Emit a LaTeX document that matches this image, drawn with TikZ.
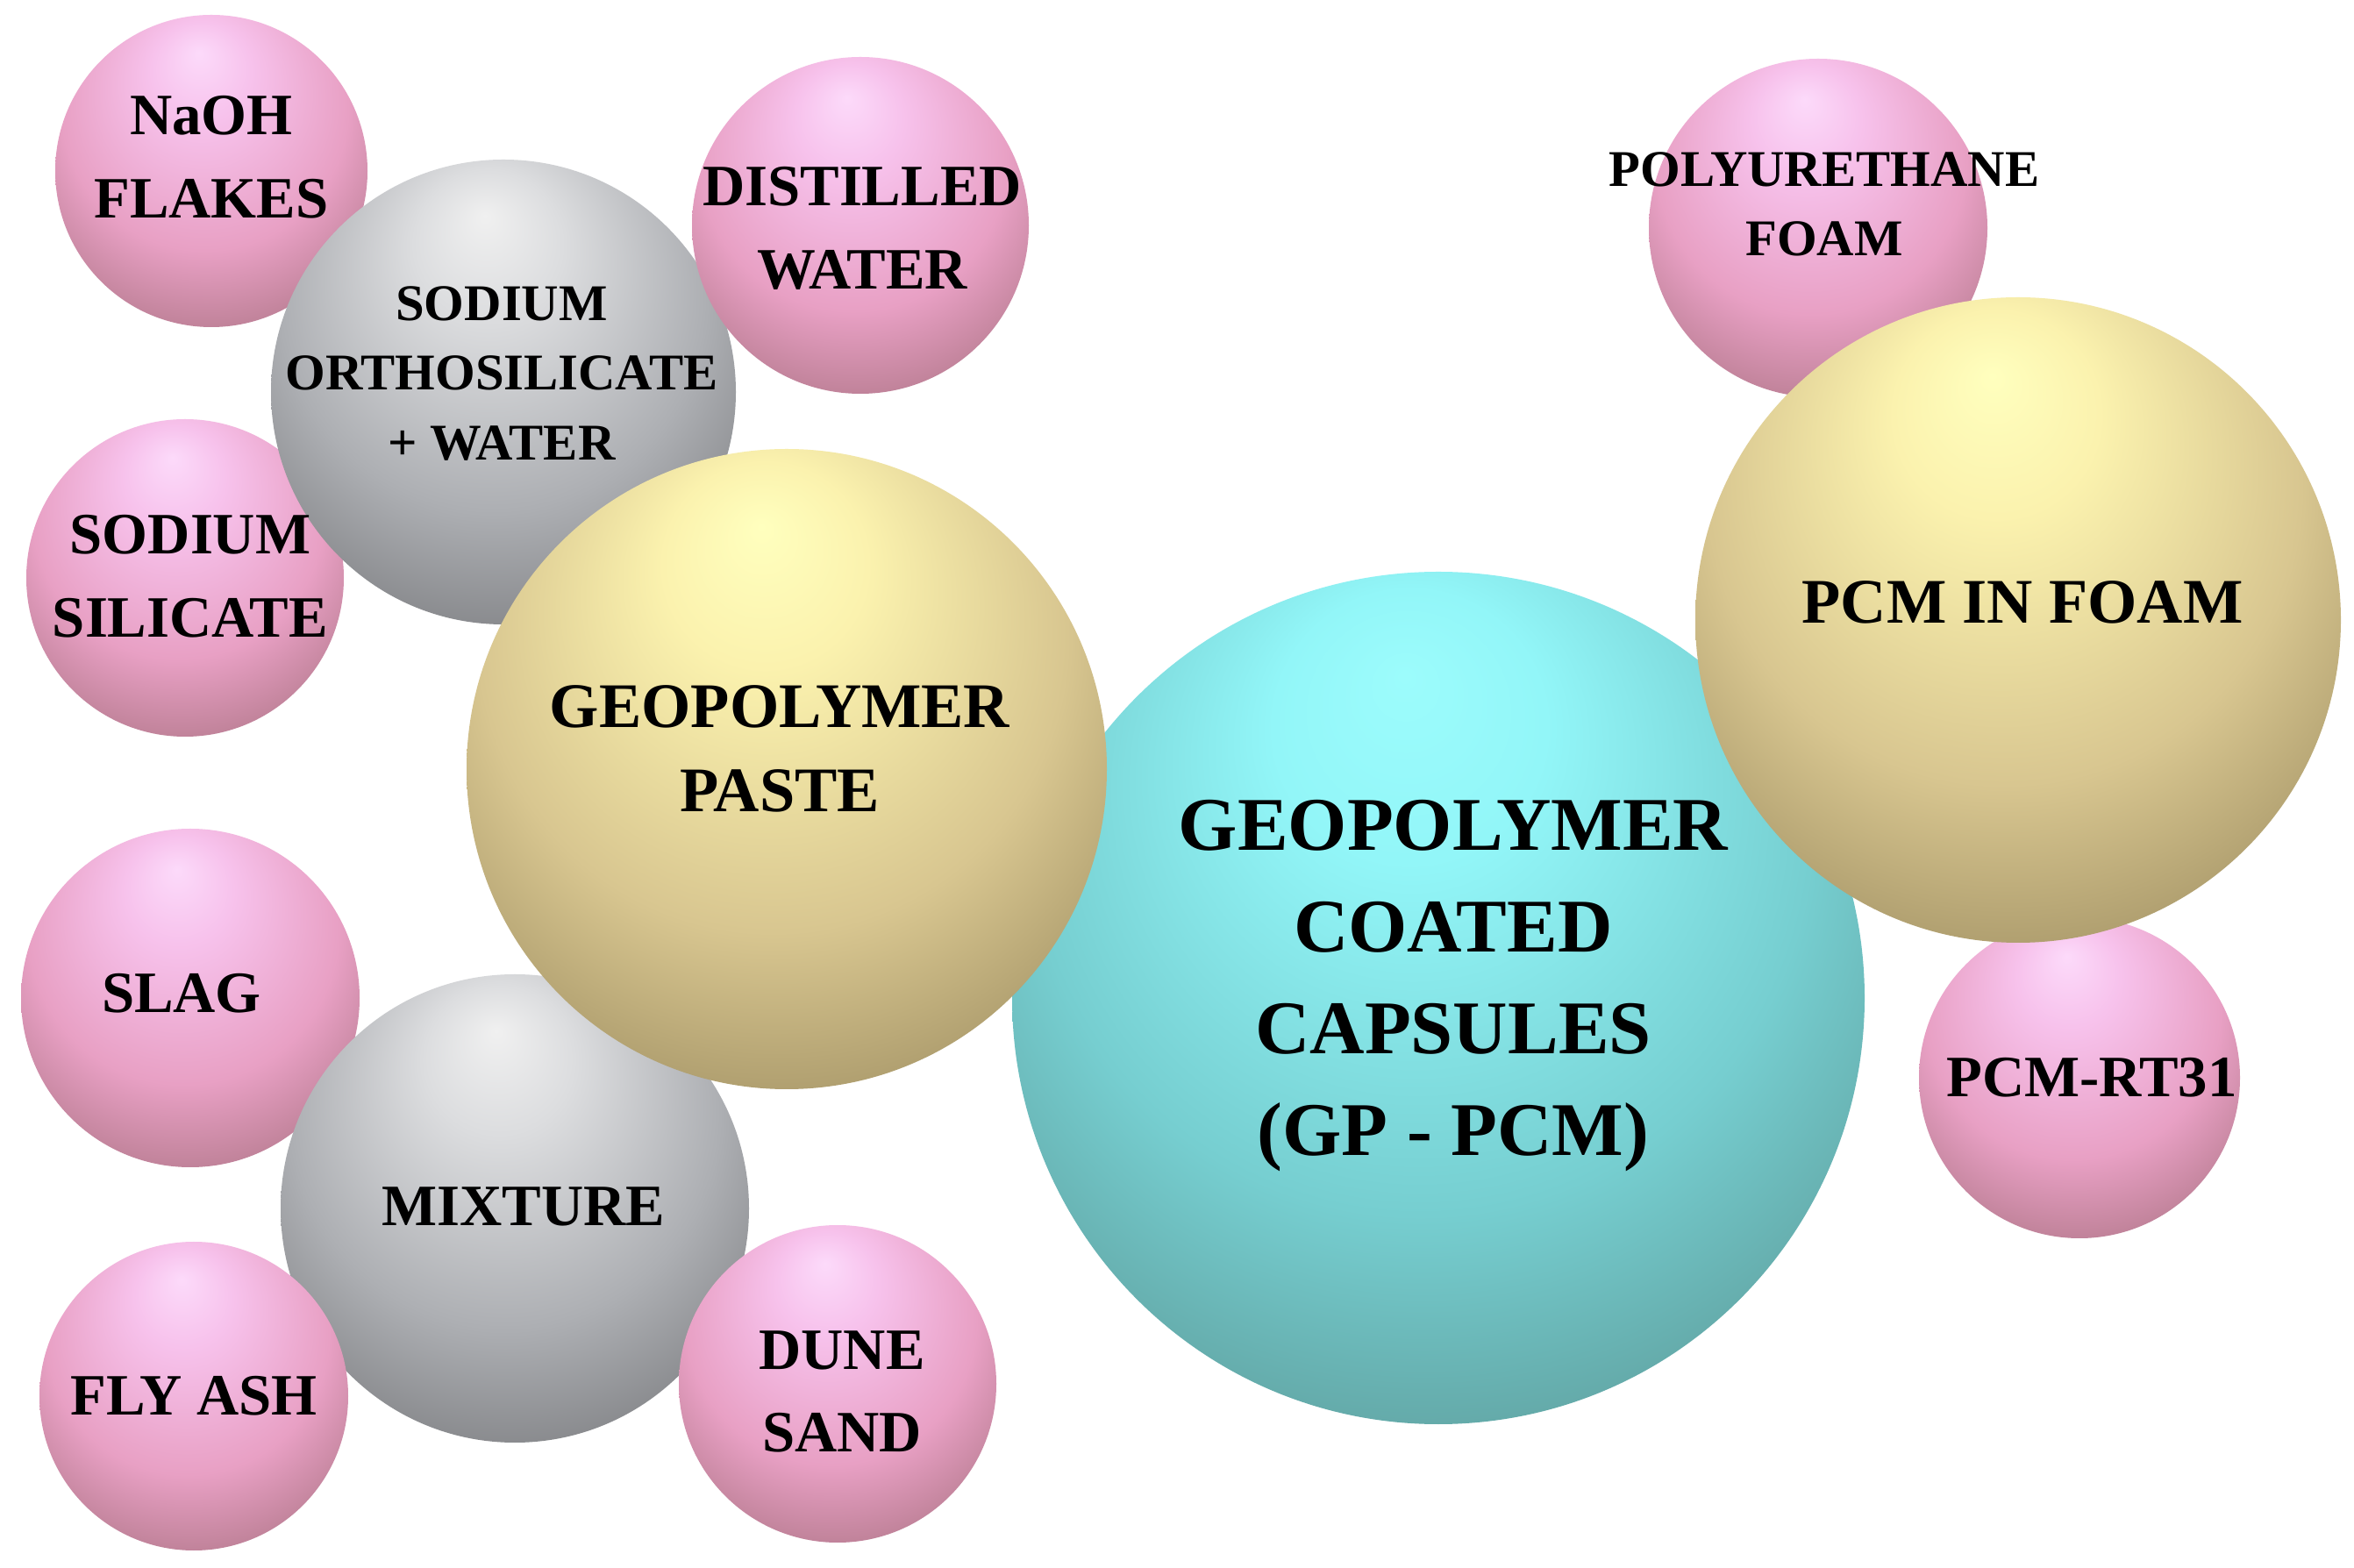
\documentclass[tikz,border=0pt]{standalone}
\usepackage{fontspec}
\setmainfont{Liberation Serif}
\usepackage{tikz}
\usetikzlibrary{backgrounds,calc}

\definecolor{pinkA}{HTML}{FCDAFA}
\definecolor{pinkB}{HTML}{F7C2EC}
\definecolor{pinkC}{HTML}{E8A0C4}
\definecolor{pinkD}{HTML}{AA7282}
\definecolor{grayA}{HTML}{F0F0F0}
\definecolor{grayB}{HTML}{DCDDDF}
\definecolor{grayC}{HTML}{ADAFB3}
\definecolor{grayD}{HTML}{76777A}
\definecolor{yelA}{HTML}{FFFFBE}
\definecolor{yelB}{HTML}{FBF2AE}
\definecolor{yelC}{HTML}{D8C690}
\definecolor{yelD}{HTML}{9A8A5E}
\definecolor{cyaA}{HTML}{9CFCFC}
\definecolor{cyaB}{HTML}{92F6F8}
\definecolor{cyaC}{HTML}{76CED0}
\definecolor{cyaD}{HTML}{5A9694}

\pgfdeclareradialshading{pinkshade}{\pgfpoint{-2bp}{19bp}}{color(0bp)=(pinkA); color(8bp)=(pinkB); color(23bp)=(pinkC); color(37bp)=(pinkD); color(50bp)=(pinkD)}
\pgfdeclareradialshading{grayshade}{\pgfpoint{-2bp}{19bp}}{color(0bp)=(grayA); color(8bp)=(grayB); color(23bp)=(grayC); color(37bp)=(grayD); color(50bp)=(grayD)}
\pgfdeclareradialshading{yelshade}{\pgfpoint{-2bp}{19bp}}{color(0bp)=(yelA); color(8bp)=(yelB); color(23bp)=(yelC); color(37bp)=(yelD); color(50bp)=(yelD)}
\pgfdeclareradialshading{cyashade}{\pgfpoint{-2bp}{19bp}}{color(0bp)=(cyaA); color(8bp)=(cyaB); color(23bp)=(cyaC); color(37bp)=(cyaD); color(50bp)=(cyaD)}

\tikzset{
  sph/.style={circle, inner sep=0pt, minimum size=#1, shade},
  pinksph/.style={sph=#1, shading=pinkshade},
  graysph/.style={sph=#1, shading=grayshade},
  yelsph/.style={sph=#1, shading=yelshade},
  cyasph/.style={sph=#1, shading=cyashade},
  lbl/.style={align=center, inner sep=0pt, text=black, font=\bfseries\fontsize{19}{27}\selectfont},
  lblsmall/.style={lbl, font=\bfseries\fontsize{16.7}{22.5}\selectfont},
  lblmid/.style={lbl, font=\bfseries\fontsize{20.6}{27.5}\selectfont},
  lblbig/.style={lbl, font=\bfseries\fontsize{24.6}{33}\selectfont}
}

\begin{document}
\begin{tikzpicture}
\useasboundingbox[fill=white] (0cm,0cm) rectangle (26.84cm,-17.88cm);
% pink spheres at the back
\node[pinksph=3.56cm] (1) at (2.41cm,-1.95cm) {};
\node[pinksph=3.62cm] (4) at (2.11cm,-6.59cm) {};
\node[pinksph=3.86cm] (6) at (2.17cm,-11.38cm) {};
\node[pinksph=3.86cm] (11) at (20.73cm,-2.60cm) {};
\node[pinksph=3.66cm] (13) at (23.71cm,-12.29cm) {};
% grey spheres
\node[graysph=5.30cm] (3) at (5.74cm,-4.47cm) {};
\node[graysph=5.34cm] (7) at (5.87cm,-13.78cm) {};
% pink spheres in front of the grey ones
\node[pinksph=3.84cm] (2) at (9.81cm,-2.57cm) {};
\node[pinksph=3.52cm] (8) at (2.21cm,-15.92cm) {};
\node[pinksph=3.62cm] (9) at (9.55cm,-15.78cm) {};
% big ones
\node[cyasph=9.72cm] (10) at (16.40cm,-11.38cm) {};
\node[yelsph=7.30cm] (5) at (8.97cm,-8.77cm) {};
\node[yelsph=7.36cm] (12) at (23.01cm,-7.07cm) {};
% labels
\node[lbl] (t1) at (2.41cm,-1.79cm) {NaOH\\FLAKES};
\node[lbl] (t2) at (9.83cm,-2.60cm) {DISTILLED\\WATER};
\node[lblsmall] (t3) at (5.72cm,-4.26cm) {SODIUM\\ORTHOSILICATE\\+ WATER};
\node[lbl] (t4) at (2.17cm,-6.57cm) {SODIUM\\SILICATE};
\node[lblmid] (t5) at (8.89cm,-8.54cm) {GEOPOLYMER\\PASTE};
\node[lbl] (t6) at (2.07cm,-11.33cm) {SLAG};
\node[lbl] (t7) at (5.97cm,-13.76cm) {MIXTURE};
\node[lbl] (t8) at (2.21cm,-15.92cm) {FLY ASH};
\node[lbl] (t9) at (9.60cm,-15.87cm) {DUNE\\SAND};
\node[lblbig] (t10) at (16.57cm,-11.24cm) {GEOPOLYMER\\COATED\\CAPSULES\\(GP - PCM)};
\node[lblsmall] (t11) at (20.80cm,-2.33cm) {POLYURETHANE\\FOAM};
\node[lblmid] (t12) at (23.06cm,-6.87cm) {PCM IN FOAM};
\node[lbl] (t13) at (23.85cm,-12.29cm) {PCM-RT31};
\end{tikzpicture}
\end{document}
